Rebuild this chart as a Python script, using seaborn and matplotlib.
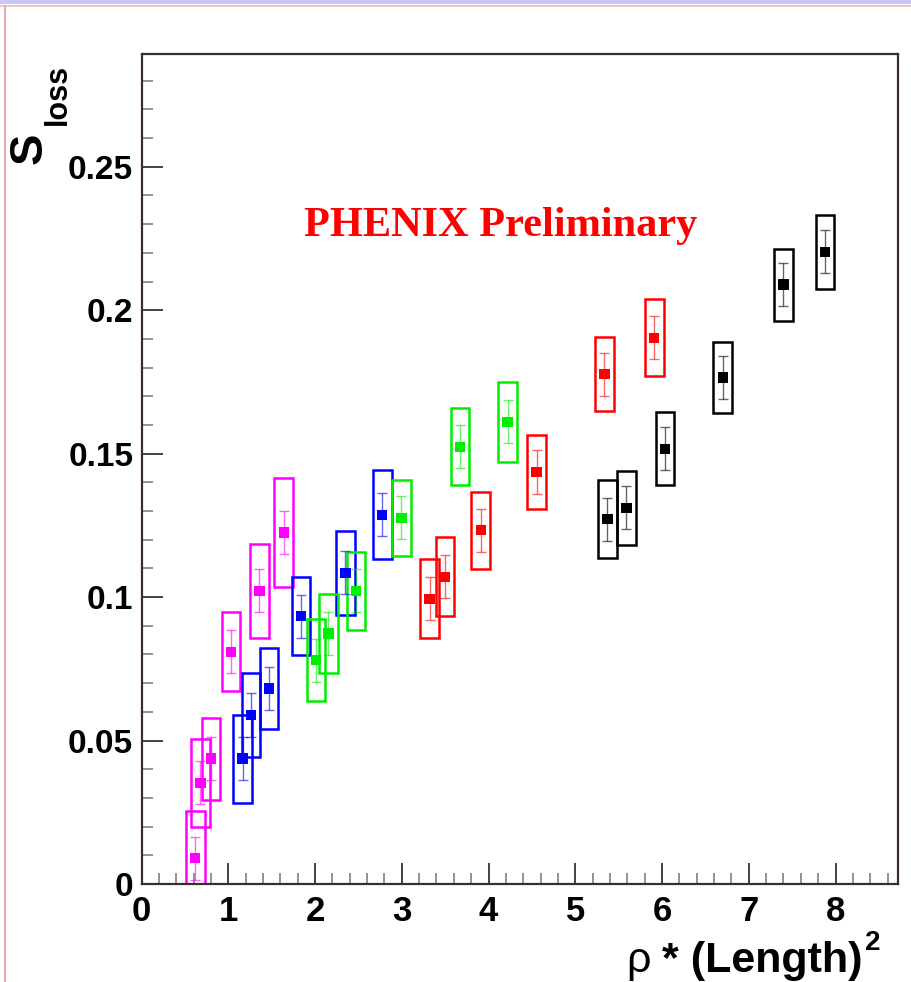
import numpy as np
import pandas as pd
import matplotlib
matplotlib.use("Agg")
import matplotlib.pyplot as plt
import seaborn as sns
from matplotlib.patches import Rectangle
from matplotlib.lines import Line2D
from matplotlib.ticker import MultipleLocator

# ---------------- data ----------------
series_names = ["magenta", "blue", "green", "red", "black"]
series_colors = ["#ff00ff", "#0000ff", "#00ee00", "#ff0000", "#000000"]

x_magenta = [0.62, 0.68, 0.80, 1.03, 1.36, 1.64]
y_magenta = [0.0090, 0.0353, 0.0437, 0.0809, 0.1022, 0.1225]
sys_magenta = [0.0165, 0.0154, 0.0143, 0.0138, 0.0163, 0.0190]

x_blue = [1.165, 1.26, 1.47, 1.84, 2.35, 2.775]
y_blue = [0.0437, 0.0589, 0.0681, 0.0934, 0.1085, 0.1287]
sys_blue = [0.0153, 0.0145, 0.0140, 0.0135, 0.0146, 0.0155]

x_green = [2.01, 2.155, 2.47, 2.995, 3.67, 4.22]
y_green = [0.0780, 0.0873, 0.1022, 0.1276, 0.1524, 0.1611]
sys_green = [0.0142, 0.0139, 0.0135, 0.0132, 0.0134, 0.0140]

x_red = [3.32, 3.50, 3.91, 4.555, 5.335, 5.91]
y_red = [0.0994, 0.1071, 0.1233, 0.1436, 0.1777, 0.1904]
sys_red = [0.0138, 0.0137, 0.0134, 0.0128, 0.0130, 0.0135]

x_black = [5.37, 5.59, 6.035, 6.70, 7.40, 7.88]
y_black = [0.1272, 0.1311, 0.1517, 0.1766, 0.2089, 0.2203]
sys_black = [0.0135, 0.0130, 0.0127, 0.0123, 0.0126, 0.0130]

stat_err = [0.0075, 0.0075, 0.0075, 0.0075, 0.0075, 0.0075]

x_ticks = [0, 1, 2, 3, 4, 5, 6, 7, 8]
y_ticks = [0, 0.05, 0.1, 0.15, 0.2, 0.25]
y_tick_labels = ["0", "0.05", "0.1", "0.15", "0.2", "0.25"]

xs = [x_magenta, x_blue, x_green, x_red, x_black]
ys = [y_magenta, y_blue, y_green, y_red, y_black]
syss = [sys_magenta, sys_blue, sys_green, sys_red, sys_black]

rows = []
for name, xv, yv, sv in zip(series_names, xs, ys, syss):
    for a, b, c, d in zip(xv, yv, sv, stat_err):
        rows.append({"series": name, "x": a, "y": b, "sys": c, "stat": d})
df = pd.DataFrame(rows)

# ---------------- figure ----------------
sns.set_theme(style="white")
plt.rcParams["font.family"] = ["Liberation Sans", "DejaVu Sans"]
plt.rcParams["text.color"] = "black"
plt.rcParams["xtick.color"] = "black"
plt.rcParams["ytick.color"] = "black"

W, H = 911, 982
fig = plt.figure(figsize=(W / 100, H / 100), dpi=100)
fig.patch.set_facecolor("white")

def fx(px):
    return px / W

def fy(py):
    return 1 - py / H

ax_left, ax_right, ax_top, ax_bot = 141.5, 898, 54, 884
ax = fig.add_axes([fx(ax_left), fy(ax_bot), (ax_right - ax_left) / W, (ax_bot - ax_top) / H])
ax.set_facecolor("white")

palette = dict(zip(series_names, series_colors))
box_half_w = 0.107

# systematic boxes
for _, r in df.iterrows():
    ax.add_patch(Rectangle((r["x"] - box_half_w, r["y"] - r["sys"]), 2 * box_half_w, 2 * r["sys"],
                           fill=False, edgecolor=palette[r["series"]], lw=1.8, zorder=2))

# statistical error bars
for name in series_names:
    sub = df[df["series"] == name]
    ax.errorbar(sub["x"], sub["y"], yerr=sub["stat"], fmt="none", ecolor=palette[name],
                elinewidth=1.0, capsize=3.5, capthick=1.0, alpha=0.6, zorder=3)

# markers
sns.scatterplot(data=df, x="x", y="y", hue="series", palette=palette, marker="s",
                s=56, linewidth=0, legend=False, ax=ax, zorder=4)

ax.set_xlim(0, 8.72)
ax.set_ylim(0, 0.2893)
ax.set_xlabel("")
ax.set_ylabel("")

ax.set_xticks(x_ticks)
ax.set_xticklabels([str(t) for t in x_ticks])
ax.set_yticks(y_ticks)
ax.set_yticklabels(y_tick_labels)
ax.xaxis.set_minor_locator(MultipleLocator(0.2))
ax.yaxis.set_minor_locator(MultipleLocator(0.01))

ax.tick_params(axis="both", which="both", bottom=True, left=True, top=False, right=False)
ax.tick_params(axis="both", which="major", direction="in", length=15, width=1.2, color="#222222")
ax.tick_params(axis="both", which="minor", direction="in", length=8, width=1.2, color="#808080")
ax.tick_params(axis="x", which="major", labelsize=25, pad=8, labelcolor="black")
ax.tick_params(axis="y", which="major", labelsize=24, pad=6, labelcolor="black")
for lab in ax.get_xticklabels() + ax.get_yticklabels():
    lab.set_fontweight("bold")

for sp in ax.spines.values():
    sp.set_visible(True)
    sp.set_color("#3b2b2b")
    sp.set_linewidth(1.6)

# labels
fig.text(fx(863), fy(972), "* (Length)", ha="right", va="baseline",
         fontsize=31, fontweight="bold", color="black")
fig.text(fx(626), fy(972), "ρ", ha="left", va="baseline", fontsize=31, color="black")
fig.text(fx(865), fy(950), "2", ha="left", va="baseline", fontsize=20, fontweight="bold")
fig.text(fx(30), fy(148), "S", rotation=90, ha="center", va="center", fontsize=34, fontweight="bold")
fig.text(fx(58), fy(94), "loss", rotation=90, ha="center", va="center", fontsize=22, fontweight="bold")

fig.text(fx(501), fy(236), "PHENIX Preliminary", ha="center", va="baseline",
         fontsize=30.5, fontweight="bold", color="#ff0000", family=["Liberation Serif", "DejaVu Serif"])

# slide frame decorations
fig.patches.append(Rectangle((0, fy(4)), 1, 4 / H, transform=fig.transFigure,
                             facecolor="#c8c8f8", edgecolor="none", zorder=0))
fig.lines.append(Line2D([0, 1], [fy(5.5), fy(5.5)], transform=fig.transFigure, color="#f2b8c0", lw=1.2))
fig.lines.append(Line2D([fx(5), fx(5)], [0, fy(5.5)], transform=fig.transFigure, color="#e09a9a", lw=1.2))

fig.savefig("out.png", dpi=100)
